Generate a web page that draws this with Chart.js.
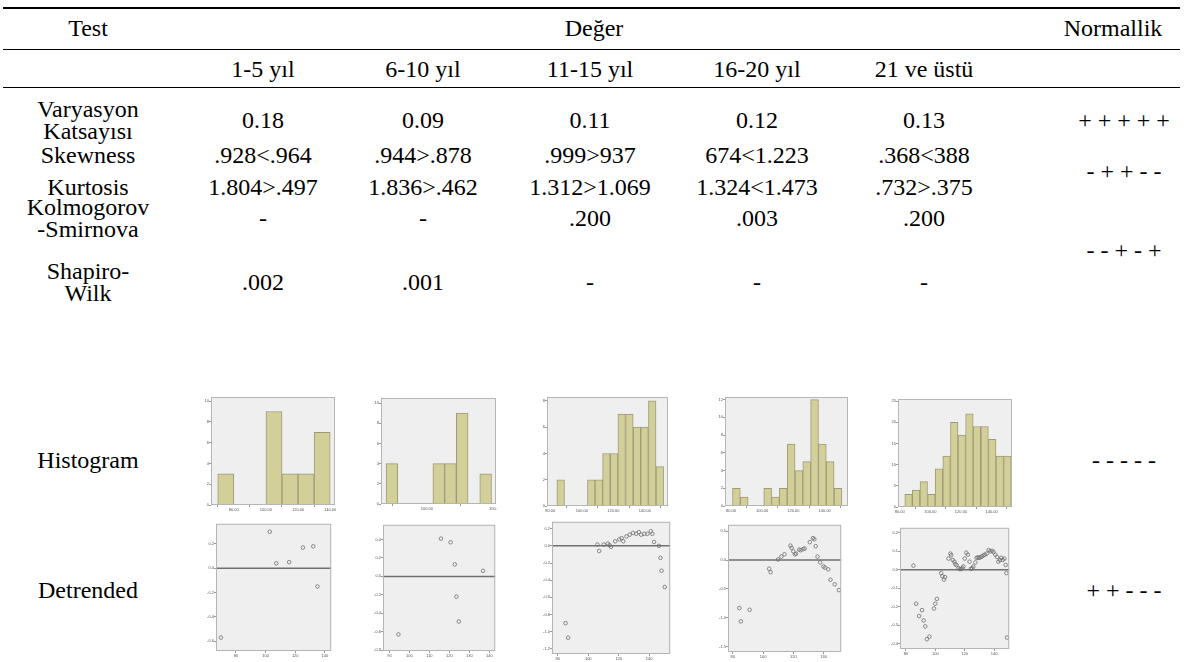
<!DOCTYPE html>
<html>
<head>
<meta charset="utf-8">
<script src="https://cdn.jsdelivr.net/npm/chart.js@4.4.1/dist/chart.umd.min.js"></script>
<style>
    body { margin: 0; width: 1187px; height: 662px; background: #fff; position: relative; overflow: hidden;
           font-family: "Liberation Serif", "Times New Roman", serif; }
    .t { position: absolute; transform: translate(-50%, -50%); white-space: nowrap; font-size: 24px; line-height: 1; color: #000; }
    .rule { position: absolute; left: 3px; width: 1177px; background: #000; }
    .box { position: absolute; }
</style>
</head>
<body>
<div class="rule" style="top:7px;height:2px"></div>
<div class="rule" style="top:49px;height:1px"></div>
<div class="rule" style="top:87px;height:1px"></div>

<div class="box" style="left:202px;top:396px;width:134px;height:116px"><canvas id="h1"></canvas></div>
<div class="box" style="left:372px;top:397px;width:125px;height:114px"><canvas id="h2"></canvas></div>
<div class="box" style="left:538px;top:396px;width:131px;height:117px"><canvas id="h3"></canvas></div>
<div class="box" style="left:716px;top:396px;width:133px;height:117px"><canvas id="h4"></canvas></div>
<div class="box" style="left:889px;top:398px;width:124px;height:116px"><canvas id="h5"></canvas></div>

<div class="box" style="left:207px;top:519px;width:129px;height:139px"><canvas id="d1"></canvas></div>
<div class="box" style="left:374px;top:520px;width:126px;height:138px"><canvas id="d2"></canvas></div>
<div class="box" style="left:543px;top:517px;width:132px;height:144px"><canvas id="d3"></canvas></div>
<div class="box" style="left:719px;top:520px;width:127px;height:139px"><canvas id="d4"></canvas></div>
<div class="box" style="left:891px;top:523px;width:123px;height:133px"><canvas id="d5"></canvas></div>

<script>
// table text
const groups = ['1-5 yıl', '6-10 yıl', '11-15 yıl', '16-20 yıl', '21 ve üstü'];
const varyasyon = ['0.18', '0.09', '0.11', '0.12', '0.13'];
const skewness = ['.928<.964', '.944>.878', '.999>937', '674<1.223', '.368<388'];
const kurtosis = ['1.804>.497', '1.836>.462', '1.312>1.069', '1.324<1.473', '.732>.375'];
const kolmogorov = ['-', '-', '.200', '.003', '.200'];
const shapiro = ['.002', '.001', '-', '-', '-'];
const normallik = ['+ + + + +', '- + + - -', '- - + - +', '- - - - -', '+ + - - -'];

// histograms: bin centres and counts
const hist1Bins = [75, 85, 95, 105, 115, 125, 135];
const hist1Counts = [3, 0, 0, 9, 3, 3, 7];
const hist2Bins = [74.3, 82.9, 91.5, 100.1, 108.7, 117.3, 125.9, 134.5, 143.1];
const hist2Counts = [4, 0, 0, 0, 4, 4, 9, 0, 3];
const hist3Bins = [86.6, 91.4, 96.3, 101.1, 106.0, 110.8, 115.6, 120.5, 125.3, 130.2, 135.0, 139.8, 144.7, 149.5];
const hist3Counts = [2, 0, 0, 0, 2, 2, 4, 4, 7, 7, 6, 6, 8, 3];
const hist4Bins = [83.5, 88.5, 93.5, 98.5, 103.5, 108.5, 113.5, 118.5, 123.5, 128.5, 133.5, 138.5, 143.5, 148.5];
const hist4Counts = [2, 1, 0, 0, 2, 1, 2, 7, 4, 5, 12, 7, 5, 2];
const hist5Bins = [85.8, 90.7, 95.7, 100.7, 105.6, 110.6, 115.6, 120.5, 125.5, 130.4, 135.4, 140.4, 145.3, 150.3];
const hist5Counts = [3, 4, 6, 3, 9, 12, 20, 17, 22, 19, 19, 16, 12, 12];

// detrended normal Q-Q: observed value and deviation
const det1X = [69.8, 102.8, 107.2, 115.9, 125.2, 132.2, 135.0];
const det1Y = [-0.57, 0.30, 0.04, 0.05, 0.17, 0.18, -0.15];
const det2X = [94.5, 115.8, 120.6, 122.7, 123.5, 124.7, 136.8];
const det2Y = [-0.63, 0.41, 0.37, 0.13, -0.22, -0.49, 0.06];
const det3X = [85.1, 86.8, 106.0, 107.2, 110.2, 112.8, 114.0, 114.9, 117.7, 120.4, 121.9, 123.0, 125.1, 127.2,
               129.4, 131.5, 133.2, 134.7, 136.8, 138.9, 141.1, 142.1, 143.2, 146.4, 147.4, 148.1, 150.2];
const det3Y = [-0.90, -1.07, 0.015, -0.06, 0.015, 0.026, 0.008, -0.011, 0.053, 0.075, 0.09, 0.053, 0.11, 0.13,
               0.15, 0.14, 0.16, 0.13, 0.14, 0.14, 0.17, 0.14, 0.045, 0.0, -0.14, -0.29, -0.48];
const det4X = [84.3, 85.3, 91.1, 104.0, 105.0, 109.9, 112.1, 114.2, 118.1, 118.9, 120.0, 121.1, 121.9, 123.9, 124.9,
               126.6, 127.5, 130.9, 133.0, 133.9, 134.8, 136.0, 137.8, 139.9, 141.0, 143.1, 144.6, 147.4, 150.2];
const det4Y = [-0.83, -1.06, -0.86, -0.15, -0.21, 0.01, 0.06, 0.10, 0.25, 0.21, 0.15, 0.10, 0.11, 0.18, 0.17,
               0.19, 0.20, 0.31, 0.38, 0.36, 0.24, 0.06, -0.04, -0.11, -0.13, -0.16, -0.34, -0.42, -0.52];
const det5X = [85.1, 87.0, 89.0, 91.0, 92.1, 93.2, 94.3, 96.0, 99.1, 100.0, 101.1, 104.0, 104.8, 105.9, 106.6,
               109.0, 110.3, 110.8, 111.9, 113.0, 113.6, 114.5, 115.8, 116.7, 117.6, 118.5, 119.1, 120.0, 121.1,
               122.2, 123.3, 124.2, 125.1, 125.9, 127.3, 128.1, 129.0, 129.9, 130.8, 131.7, 132.8, 133.8, 134.9,
               136.3, 137.4, 138.7, 139.6, 140.9, 142.0, 142.9, 144.0, 144.8, 145.9, 147.0, 147.9, 148.4, 148.8];
const det5Y = [0.023, -0.184, -0.251, -0.219, -0.275, -0.307, -0.377, -0.363, -0.210, -0.184, -0.158, -0.018, -0.035,
               -0.053, -0.040, 0.061, 0.088, 0.079, 0.053, 0.044, 0.030, 0.026, 0.009, 0.004, 0.004, 0.009, 0.018,
               0.061, 0.093, 0.082, 0.044, 0.005, 0.009, 0.018, 0.040, 0.065, 0.067, 0.065, 0.068, 0.072, 0.079,
               0.082, 0.088, 0.107, 0.100, 0.103, 0.096, 0.082, 0.070, 0.044, 0.053, 0.065, 0.053, 0.061, 0.026,
               -0.018, -0.368];

// axis tick labels
const histXTicks = [80, 100, 120, 140];
const hist2XTicks = [100, 150];
const det1YTicks = [0.2, 0, -0.2, -0.4, -0.6];
const det2XTicks = [90, 100, 110, 120, 130, 140];
const det2YTicks = [0.4, 0.2, 0, -0.2, -0.4, -0.6, -0.8];
const det3YTicks = [0.2, 0, -0.2, -0.4, -0.6, -0.8, -1.0, -1.2];
const det4YTicks = [0.5, 0, -0.5, -1.0, -1.5];
const det5YTicks = [0.2, 0.1, 0, -0.1, -0.2, -0.3, -0.4];


// --- table text ---
const colX = [263, 423, 590, 757, 924];
const labelX = 88, normX = 1124;

function put(text, x, y) {
    const d = document.createElement('div');
    d.className = 't';
    d.textContent = text;
    d.style.left = x + 'px';
    d.style.top = y + 'px';
    document.body.appendChild(d);
}

put('Test', labelX, 28);
put('Değer', 594, 28);
put('Normallik', 1113, 28);
groups.forEach((g, i) => put(g, colX[i], 69));

put('Varyasyon', labelX, 109); put('Katsayısı', labelX, 131);
varyasyon.forEach((v, i) => put(v, colX[i], 120));
put('Skewness', labelX, 155);
skewness.forEach((v, i) => put(v, colX[i], 155));
put('Kurtosis', labelX, 187);
kurtosis.forEach((v, i) => put(v, colX[i], 187));
put('Kolmogorov', labelX, 207); put('-Smirnova', labelX, 229);
kolmogorov.forEach((v, i) => put(v, colX[i], 218));
put('Shapiro-', labelX, 271); put('Wilk', labelX, 293);
shapiro.forEach((v, i) => put(v, colX[i], 282));
put('Histogram', labelX, 460);
put('Detrended', labelX, 590);

[120, 171, 250, 460, 590].forEach((y, i) => put(normallik[i], normX, y));


// --- small charts ---
const plotFrame = {
    id: 'plotFrame',
    beforeDraw(chart) {
        const { ctx, chartArea: a } = chart;
        ctx.save();
        ctx.fillStyle = '#efefef';
        ctx.fillRect(a.left, a.top, a.width, a.height);
        ctx.restore();
    },
    afterDraw(chart) {
        const { ctx, chartArea: a } = chart;
        ctx.save();
        ctx.strokeStyle = '#b5b5b5';
        ctx.lineWidth = 1;
        ctx.strokeRect(a.left + 0.5, a.top + 0.5, a.width - 1, a.height - 1);
        ctx.restore();
    }
};

const zeroLine = {
    id: 'zeroLine',
    beforeDatasetsDraw(chart) {
        const { ctx, chartArea: a, scales } = chart;
        const y = scales.y.getPixelForValue(0);
        ctx.save();
        ctx.strokeStyle = '#707070';
        ctx.lineWidth = 1.5;
        ctx.beginPath();
        ctx.moveTo(a.left, y);
        ctx.lineTo(a.right, y);
        ctx.stroke();
        ctx.restore();
    }
};

function tickAxis(min, max, ticks, fmt, isY) {
    return {
        type: 'linear', min: min, max: max, offset: false,
        afterBuildTicks: s => { s.ticks = ticks.map(v => ({ value: v })); },
        afterFit: s => {
            if (isY) s.width = 9; else s.height = 7;
            s.paddingLeft = s.paddingRight = s.paddingTop = s.paddingBottom = 0;
        },
        grid: { drawOnChartArea: false, drawTicks: true, tickLength: 2, color: '#999' },
        border: { display: false },
        ticks: { font: { size: 4 }, color: '#555', padding: 0, autoSkip: false, maxRotation: 0, callback: fmt }
    };
}

const baseOpts = {
    responsive: true, maintainAspectRatio: false, animation: false,
    layout: { padding: { top: 1, right: 1, left: 0, bottom: 0 } },
    plugins: { legend: { display: false }, tooltip: { enabled: false } }
};

function histChart(id, bins, counts, xMin, xMax, xTicks, yMax, yTicks) {
    new Chart(document.getElementById(id), {
        type: 'bar',
        data: {
            datasets: [{
                data: bins.map((b, i) => ({ x: b, y: counts[i] })),
                backgroundColor: '#d3cf98', borderColor: '#9d9a77', borderWidth: 1,
                barPercentage: 1, categoryPercentage: 1
            }]
        },
        options: {
            ...baseOpts,
            scales: {
                x: tickAxis(xMin, xMax, xTicks, v => v.toFixed(2), false),
                y: tickAxis(0, yMax, yTicks, v => v, true)
            }
        },
        plugins: [plotFrame]
    });
}

function detChart(id, xs, ys, xMin, xMax, xTicks, yMin, yMax, yTicks) {
    new Chart(document.getElementById(id), {
        type: 'scatter',
        data: {
            datasets: [{
                data: xs.map((x, i) => ({ x: x, y: ys[i] })),
                pointRadius: 1.8, pointBorderWidth: 0.8,
                borderColor: '#6f6f6f', backgroundColor: 'rgba(0,0,0,0)'
            }]
        },
        options: {
            ...baseOpts,
            scales: {
                x: tickAxis(xMin, xMax, xTicks, v => v, false),
                y: tickAxis(yMin, yMax, yTicks, v => v.toFixed(1), true)
            }
        },
        plugins: [plotFrame, zeroLine]
    });
}

histChart('h1', hist1Bins, hist1Counts, 65.8, 143, histXTicks, 10.4, [0, 2, 4, 6, 8, 10]);
histChart('h2', hist2Bins, hist2Counts, 66.3, 150.7, hist2XTicks, 10.5, [0, 2, 4, 6, 8, 10]);
histChart('h3', hist3Bins, hist3Counts, 77.9, 154.7, histXTicks, 8.3, [0, 2, 4, 6, 8]);
histChart('h4', hist4Bins, hist4Counts, 76.2, 154.9, histXTicks, 12.3, [0, 2, 4, 6, 8, 10, 12]);
histChart('h5', hist5Bins, hist5Counts, 78.9, 153.3, histXTicks, 25.5, [0, 5, 10, 15, 20, 25]);

detChart('d1', det1X, det1Y, 66.5, 144.3, histXTicks, -0.68, 0.365, det1YTicks);
detChart('d2', det2X, det2Y, 86.8, 142.9, det2XTicks, -0.81, 0.56, det2YTicks);
detChart('d3', det3X, det3Y, 76.2, 153.8, histXTicks, -1.26, 0.28, det3YTicks);
detChart('d4', det4X, det4Y, 76.8, 151.7, histXTicks, -1.59, 0.61, det4YTicks);
detChart('d5', det5X, det5Y, 76.0, 150.3, histXTicks, -0.43, 0.228, det5YTicks);
</script>
</body>
</html>
